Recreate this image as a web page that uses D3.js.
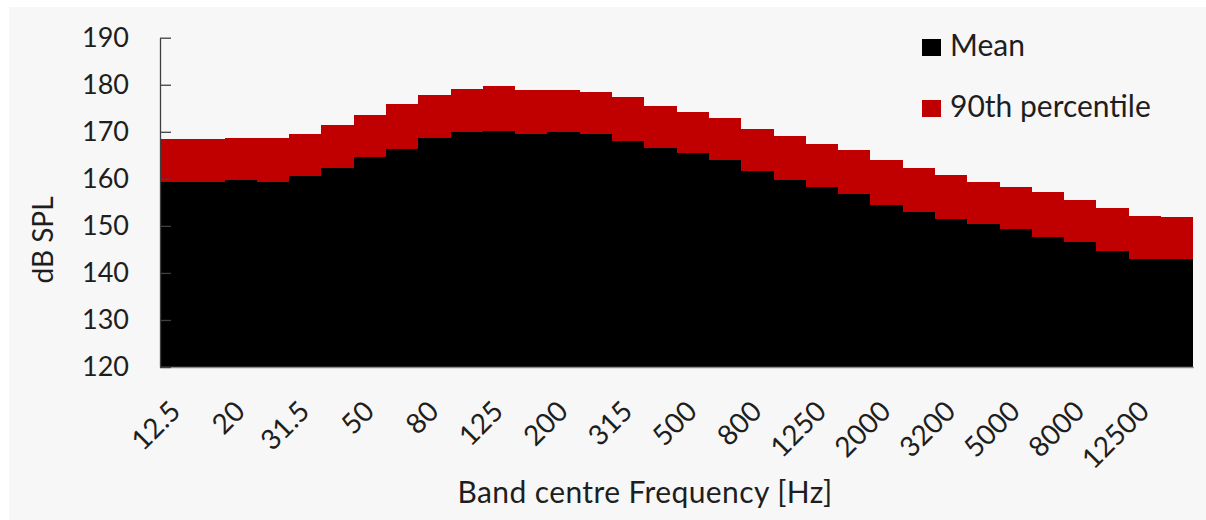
<!DOCTYPE html>
<html>
<head>
<meta charset="utf-8">
<script src="https://cdn.jsdelivr.net/npm/d3@7"></script>
<style>
  html, body { margin: 0; padding: 0; background: #ffffff; }
  text { font-family: Lato, "Open Sans", sans-serif; fill: #1e1e1e; }
</style>
</head>
<body>
<svg id="chart" width="1206" height="520"></svg>
<script>
// third-octave band centres (Hz), as labelled on the chart
const bands = ['12.5', '16', '20', '25', '31.5', '40', '50', '63', '80', '100', '125', '160',
  '200', '250', '315', '400', '500', '630', '800', '1000', '1250', '1600', '2000', '2500',
  '3200', '4000', '5000', '6300', '8000', '10000', '12500', '16000'];
// dB SPL per band
const meanValues = [159.4, 159.4, 159.8, 159.3, 160.5, 162.4, 164.6, 166.4, 168.7, 169.9, 170.2, 169.5,
  169.9, 169.5, 168.0, 166.5, 165.4, 163.9, 161.7, 159.8, 158.2, 156.7, 154.4, 153.0,
  151.5, 150.3, 149.3, 147.7, 146.6, 144.7, 142.9, 142.9];
const p90Values = [168.4, 168.4, 168.7, 168.7, 169.5, 171.4, 173.6, 175.9, 177.8, 179.2, 179.7, 178.8,
  178.8, 178.5, 177.5, 175.5, 174.3, 172.9, 170.6, 169.1, 167.3, 166.1, 163.9, 162.3,
  160.9, 159.3, 158.2, 157.1, 155.6, 153.7, 152.2, 151.8];
const yTicks = [120, 130, 140, 150, 160, 170, 180, 190];
const seriesNames = ['Mean', '90th percentile'];
const seriesColors = ['#000000', '#c00000'];

const svg = d3.select('#chart');
const plotLeft = 160, plotRight = 1193.3, plotTop = 37.7, plotBottom = 367;

svg.append('rect')
  .attr('x', 9).attr('y', 7)
  .attr('width', 1206 - 9).attr('height', 520 - 7)
  .attr('fill', '#f7f7f7');

const x = d3.scaleBand().domain(bands).range([plotLeft, plotRight]).padding(0);
const y = d3.scaleLinear().domain([120, 190]).range([plotBottom, plotTop]);

const rows = bands.map((b, i) => ({ band: b, mean: meanValues[i], p90: p90Values[i] }));

const bars = svg.append('g').attr('shape-rendering', 'crispEdges');
// 90th percentile behind, mean in front (overlapping columns)
bars.selectAll('.p90')
  .data(rows)
  .enter()
  .append('rect')
  .attr('class', 'p90')
  .attr('x', d => x(d.band))
  .attr('width', x.bandwidth())
  .attr('y', d => y(d.p90))
  .attr('height', d => y(120) - y(d.p90))
  .attr('fill', seriesColors[1]);
bars.selectAll('.mean')
  .data(rows)
  .enter()
  .append('rect')
  .attr('class', 'mean')
  .attr('x', d => x(d.band))
  .attr('width', x.bandwidth())
  .attr('y', d => y(d.mean))
  .attr('height', d => y(120) - y(d.mean))
  .attr('fill', seriesColors[0]);

// x axis
const xAxis = svg.append('g')
  .attr('transform', `translate(0,${plotBottom})`)
  .call(d3.axisBottom(x).tickValues(bands.filter((b, i) => i % 2 === 0)).tickSize(0).tickSizeOuter(0));
xAxis.select('.domain').attr('stroke', '#8c8c8c').attr('stroke-width', 1.3);
xAxis.selectAll('.tick text')
  .attr('x', 0).attr('y', 0).attr('dy', 0)
  .attr('text-anchor', 'end')
  .attr('transform', 'translate(6,46) rotate(-45)')
  .style('font-family', 'Lato, "Open Sans", sans-serif')
  .style('font-size', '28px')
  .attr('fill', '#1e1e1e');

// y axis, ticks pointing inward
const yAxis = svg.append('g')
  .attr('transform', `translate(${plotLeft},0)`)
  .call(d3.axisLeft(y).tickValues(yTicks).tickSizeInner(-11).tickSizeOuter(0).tickPadding(31));
yAxis.select('.domain').attr('stroke', '#404040').attr('stroke-width', 1.3);
yAxis.selectAll('.tick line').attr('stroke', '#404040').attr('stroke-width', 1.3);
yAxis.selectAll('.tick text')
  .style('font-family', 'Lato, "Open Sans", sans-serif')
  .style('font-size', '27px')
  .attr('fill', '#1e1e1e');

// axis titles
svg.append('text')
  .attr('transform', 'translate(53,240) rotate(-90)')
  .attr('text-anchor', 'middle')
  .style('font-size', '28px')
  .text('dB SPL');
svg.append('text')
  .attr('x', 645).attr('y', 503)
  .attr('text-anchor', 'middle')
  .style('font-size', '30px')
  .style('letter-spacing', '0.4px')
  .text('Band centre Frequency [Hz]');

// legend
const legend = svg.append('g');
seriesNames.forEach((name, i) => {
  let ly = 56 + i * 61;
  legend.append('rect')
    .attr('x', 922).attr('y', ly - 17)
    .attr('width', 19).attr('height', 17)
    .attr('fill', seriesColors[i]);
  legend.append('text')
    .attr('x', 950).attr('y', ly)
    .style('font-size', '30px')
    .text(name);
});
</script>
</body>
</html>
